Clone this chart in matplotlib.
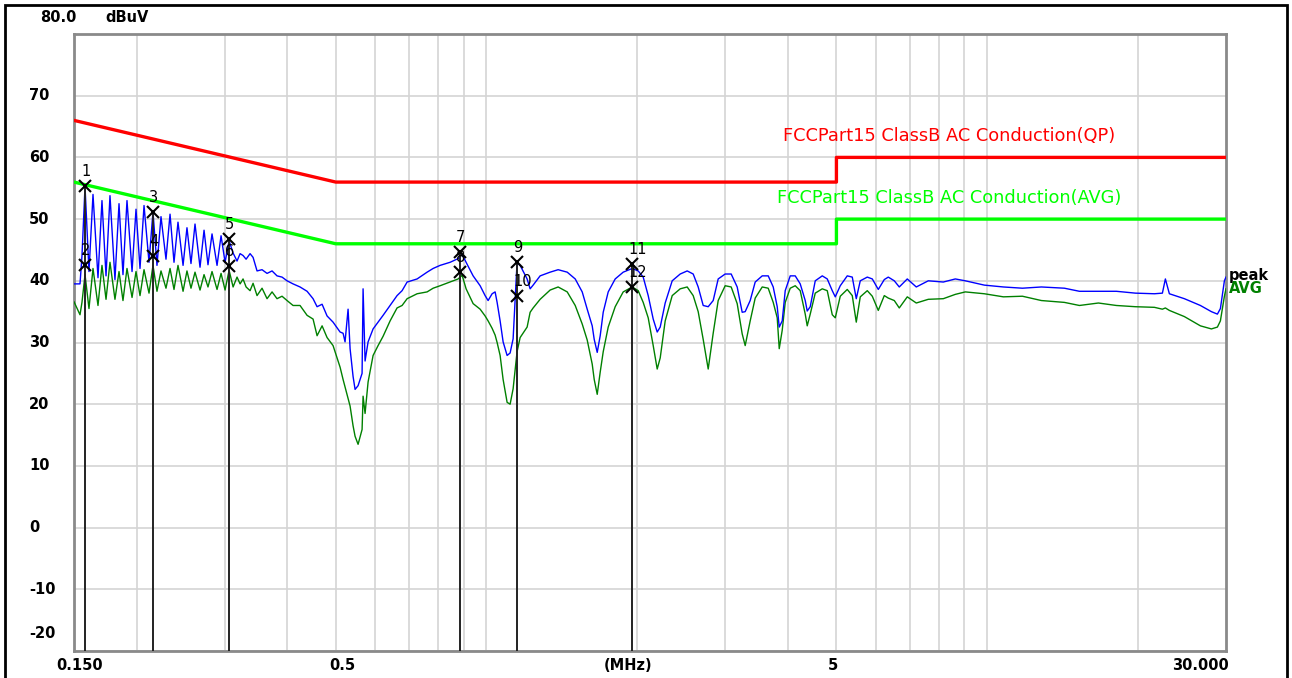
import matplotlib
matplotlib.use("Agg")
import matplotlib.pyplot as plt
import matplotlib.transforms as mtransforms
from matplotlib.patches import Rectangle

# frequency points (MHz) shared by the peak and average traces
freq = [0.1500, 0.1542, 0.1556, 0.1578, 0.1607, 0.1637, 0.1675, 0.1706, 0.1738, 0.1770,
        0.1811, 0.1845, 0.1879, 0.1914, 0.1959, 0.1995, 0.2032, 0.2070, 0.2118, 0.2157,
        0.2197, 0.2238, 0.2290, 0.2333, 0.2376, 0.2420, 0.2477, 0.2522, 0.2569, 0.2617,
        0.2678, 0.2728, 0.2778, 0.2830, 0.2896, 0.2950, 0.3005, 0.3061,
        0.3118, 0.3175, 0.3220, 0.3264, 0.3310, 0.3371, 0.3418, 0.3481, 0.3562, 0.3645,
        0.3730, 0.3816, 0.3905, 0.3996, 0.4108, 0.4242, 0.4382, 0.4504, 0.4588, 0.4695,
        0.4804, 0.4938, 0.5100, 0.5171, 0.5218, 0.5291, 0.5340, 0.5414, 0.5464, 0.5540,
        0.5643, 0.5669, 0.5721, 0.5801, 0.5936, 0.6074, 0.6215, 0.6419, 0.6628, 0.6783,
        0.6942, 0.7268, 0.7610, 0.7824, 0.8079, 0.8459, 0.8777, 0.8940, 0.9105, 0.9404,
        0.9712, 0.9937, 1.0075, 1.0262, 1.0405, 1.0501, 1.0647, 1.0795, 1.0995, 1.1148,
        1.1303, 1.151, 1.1673, 1.2055, 1.2223, 1.2393, 1.2798, 1.3400, 1.3903, 1.4496,
        1.5039, 1.5531, 1.5892, 1.6262, 1.6413, 1.6641, 1.6871, 1.7106, 1.7504, 1.8075,
        1.8754, 1.955, 2.0093, 2.0560, 2.1039, 2.1528, 2.1928, 2.2233, 2.2748, 2.3494,
        2.4374, 2.5171, 2.5875, 2.6477, 2.7093, 2.7724, 2.8368, 2.9027, 2.9977, 3.0816,
        3.1678, 3.2415, 3.2866, 3.3630, 3.4414, 3.5545, 3.6537, 3.7388, 3.8082, 3.8435,
        3.8969, 3.9509, 4.0430, 4.1369, 4.2330, 4.3318, 4.3716, 4.4324, 4.5361, 4.6849,
        4.7937, 4.9053, 4.9734, 5.0892, 5.2556, 5.3781, 5.4778, 5.5795, 5.7626, 5.8967,
        6.0617, 6.2313, 6.3467, 6.5247, 6.6758, 6.9264, 7.2193, 7.6293, 8.1738, 8.6382,
        9.0444, 9.8710, 10.777, 11.762, 12.835, 14.268, 15.288, 16.683, 18.120, 19.776,
        21.584, 22.391, 22.700, 23.121, 24.774, 26.668, 28.052, 28.837, 29.236, 29.780,
        30.000]

peak = [39.5, 39.5, 44.0, 55.3, 41.5, 54.0, 40.5, 53.0, 40.8, 53.8,
        40.2, 52.5, 41.0, 53.0, 41.5, 51.6, 42.0, 52.2, 43.0, 51.2,
        42.5, 50.4, 43.5, 50.8, 43.0, 49.5, 42.5, 48.6, 42.8, 49.2,
        42.2, 48.2, 42.6, 47.6, 42.5, 47.3, 43.0, 46.5,
        44.5, 43.2, 44.4, 44.1, 43.5, 44.4, 43.8, 41.6, 41.8, 41.2,
        41.6, 40.8, 40.6, 40.0, 39.5, 39.0, 38.3, 37.1, 35.8, 36.2,
        34.3, 33.3, 31.7, 31.5, 30.1, 35.4, 29.0, 24.5, 22.4, 23.0,
        25.0, 38.7, 27.0, 30.1, 32.2, 33.3, 34.4, 36.0, 37.6, 38.4,
        39.8, 40.3, 41.4, 42.0, 42.5, 43.0, 43.6, 44.3, 43.0, 40.8,
        39.2, 37.6, 36.8, 37.9, 38.2, 36.5, 33.5, 30.1, 27.9, 28.3,
        30.6, 43.0, 42.5, 40.3, 38.7, 39.3, 40.8, 41.4, 41.8, 41.4,
        40.3, 38.2, 35.4, 32.7, 30.5, 28.4, 31.1, 34.9, 38.2, 40.3,
        41.4, 42.0, 41.6, 40.6, 37.6, 33.8, 31.7, 32.5, 36.4, 40.0,
        41.1, 41.6, 41.1, 39.0, 36.0, 35.8, 36.8, 40.3, 41.1, 41.1,
        39.0, 34.9, 35.0, 36.8, 39.8, 40.8, 40.8, 39.0, 35.8, 32.5,
        33.5, 38.4, 40.8, 40.8, 39.5, 36.8, 35.1, 35.8, 40.0, 40.8,
        40.3, 38.4, 37.4, 39.2, 40.8, 40.6, 37.1, 40.0, 40.6, 40.3,
        38.6, 40.2, 40.6, 40.0, 39.0, 40.3, 39.0, 40.0, 39.8, 40.3,
        40.0, 39.3, 39.0, 38.8, 39.0, 38.8, 38.3, 38.3, 38.3, 38.0,
        37.9, 38.0, 40.3, 37.9, 37.1, 36.0, 35.0, 34.6, 35.5, 40.0,
        40.6]

avg = [36.6, 34.5, 36.5, 41.0, 35.5, 42.0, 36.0, 42.5, 37.0, 43.0,
       37.0, 41.5, 36.8, 42.0, 37.3, 41.5, 37.6, 41.8, 38.0, 42.5,
       38.3, 41.6, 38.8, 42.0, 38.6, 42.5, 38.3, 41.6, 38.8, 41.4,
       38.5, 41.0, 39.0, 41.5, 38.6, 41.2, 38.5, 41.7,
       39.0, 40.6, 39.5, 40.3, 39.0, 38.4, 39.6, 37.6, 38.8, 37.1,
       38.2, 37.1, 37.5, 36.8, 36.0, 36.0, 34.4, 33.8, 31.1, 32.7,
       30.8, 29.5, 26.0, 24.0, 22.8, 21.0, 19.7, 16.5, 14.8, 13.5,
       15.9, 21.3, 18.5, 23.6, 27.9, 29.5, 31.0, 33.5, 35.6, 36.0,
       37.1, 37.9, 38.2, 38.8, 39.2, 39.8, 40.3, 40.9, 38.7, 36.3,
       35.4, 34.3, 33.5, 32.3, 31.2, 30.0, 27.9, 24.0, 20.3, 20.0,
       22.5, 28.5, 30.8, 32.5, 34.9, 35.6, 37.0, 38.5, 39.0, 38.2,
       36.0, 33.0, 30.4, 26.5, 24.0, 21.6, 25.2, 28.5, 32.5, 35.8,
       38.2, 39.0, 38.4, 36.5, 34.0, 29.5, 25.7, 27.5, 33.5, 37.6,
       38.7, 39.0, 37.6, 35.0, 30.5, 25.7, 31.5, 36.8, 39.2, 39.0,
       36.3, 31.4, 29.5, 33.5, 37.2, 39.0, 38.8, 36.5, 34.0, 29.0,
       32.0, 36.5, 38.8, 39.2, 38.4, 34.6, 32.7, 34.6, 38.0, 38.7,
       38.4, 34.5, 34.0, 37.5, 38.6, 37.6, 33.3, 37.4, 38.4, 37.5,
       35.2, 37.6, 37.2, 36.8, 35.6, 37.4, 36.4, 37.0, 37.1, 37.8,
       38.2, 37.9, 37.4, 37.5, 36.8, 36.5, 36.0, 36.4, 36.0, 35.8,
       35.7, 35.4, 35.6, 35.2, 34.2, 32.7, 32.2, 32.5, 33.5, 37.5,
       38.7]

# FCC Part 15 class B conducted limits
lim_freq = [0.15, 0.5, 5.0, 5.0, 30.0]
lim_qp = [66, 56, 56, 60, 60]
lim_avg = [56, 46, 46, 50, 50]

# measured markers
mk_no = [1, 2, 3, 4, 5, 6, 7, 8, 9, 10, 11, 12]
mk_freq = [0.158, 0.158, 0.216, 0.216, 0.306, 0.306, 0.886, 0.886, 1.151, 1.151, 1.955, 1.955]
mk_level = [55.3, 42.5, 51.2, 44.1, 46.8, 42.4, 44.7, 41.4, 43.1, 37.6, 42.8, 39.0]

y_ticks = [70, 60, 50, 40, 30, 20, 10, 0, -10, -20]
x_ticks = [0.15, 0.5, 5, 30]
x_tick_labels = ["0.150", "0.5", "5", "30.000"]
x_grid = [0.2, 0.3, 0.4, 0.5, 0.6, 0.7, 0.8, 0.9, 1, 2, 3, 4, 5, 6, 7, 8, 9, 10, 20]

fig = plt.figure(figsize=(12.92, 6.78), dpi=100)
ax = fig.add_axes([74 / 1292, 27 / 678, 1152 / 1292, 617 / 678])
ax.set_xscale("log")
ax.set_xlim(0.15, 30)
ax.set_ylim(-20, 80)

# grid
for f in x_grid:
    ax.axvline(f, color="#d4d4d4", lw=1.2, zorder=0)
for v in y_ticks:
    ax.axhline(v, color="#d4d4d4", lw=1.2, zorder=0)
ax.set_xticks([])
ax.set_yticks([])
ax.minorticks_off()
for s in ax.spines.values():
    s.set_color("#8a8a8a")
    s.set_linewidth(2)

# limit lines
ax.plot(lim_freq, lim_qp, color="#ff0000", lw=2.4, zorder=3)
ax.plot(lim_freq, lim_avg, color="#00ff00", lw=2.4, zorder=3)

# traces
ax.plot(freq, avg, color="#008000", lw=1.0, zorder=4)
ax.plot(freq, peak, color="#0000ff", lw=1.0, zorder=5)

# markers
for i in range(0, len(mk_no), 2):
    ax.plot([mk_freq[i], mk_freq[i]], [-20, mk_level[i]], color="#222222", lw=1.4, zorder=6)
ax.plot(mk_freq, mk_level, "x", color="black", ms=8, mew=1.5, zorder=7)
for n, f, v in zip(mk_no, mk_freq, mk_level):
    ax.annotate(str(n), (f, v), xytext=(-4, 7), textcoords="offset pixels",
                ha="left", va="bottom", fontsize=10.5, color="black", zorder=8)

# limit labels
ax.text(8.4, 63.4, "FCCPart15 ClassB AC Conduction(QP)", color="#ff0000",
        fontsize=12.8, ha="center", va="center")
ax.text(8.4, 53.4, "FCCPart15 ClassB AC Conduction(AVG)", color="#00ff00",
        fontsize=12.8, ha="center", va="center")

# trace names at right end
ax.annotate("peak", (1.0, peak[-1]), xycoords=("axes fraction", "data"), xytext=(3, 2),
            textcoords="offset pixels", ha="left", va="center", fontsize=10.5,
            fontweight="bold", color="black")
ax.annotate("AVG", (1.0, avg[-1]), xycoords=("axes fraction", "data"), xytext=(3, 0),
            textcoords="offset pixels", ha="left", va="center", fontsize=10.5,
            fontweight="bold", color="#008000")

# y labels (left aligned, like the analyser software)
ytrans = mtransforms.blended_transform_factory(fig.transFigure, ax.transData)
for v in y_ticks:
    dy = 17 if v == -20 else 0
    ax.annotate(str(v), (29 / 1292, v), xycoords=ytrans, xytext=(0, dy),
                textcoords="offset pixels", ha="left", va="center",
                fontsize=10.5, fontweight="bold", annotation_clip=False)
fig.text(40 / 1292, 1 - 18 / 678, "80.0", ha="left", va="center", fontsize=10.5, fontweight="bold")
fig.text(105 / 1292, 1 - 18 / 678, "dBuV", ha="left", va="center", fontsize=10.5, fontweight="bold")

# x labels
x_dx = [6, 7, -3, -26]
for f, lab, dx in zip(x_ticks, x_tick_labels, x_dx):
    ax.annotate(lab, (f, 0), xycoords=("data", "axes fraction"), xytext=(dx, -14),
                textcoords="offset pixels", ha="center", va="center",
                fontsize=10.5, fontweight="bold", annotation_clip=False)
fig.text(628 / 1292, 13 / 678, "(MHz)", ha="center", va="center", fontsize=10.5, fontweight="bold")

# outer frame
fig.add_artist(Rectangle((5 / 1292, -0.05), 1282 / 1292, 1.05 - 5 / 678, transform=fig.transFigure,
                         fill=False, edgecolor="black", lw=2))

fig.savefig("out.png", dpi=100)
